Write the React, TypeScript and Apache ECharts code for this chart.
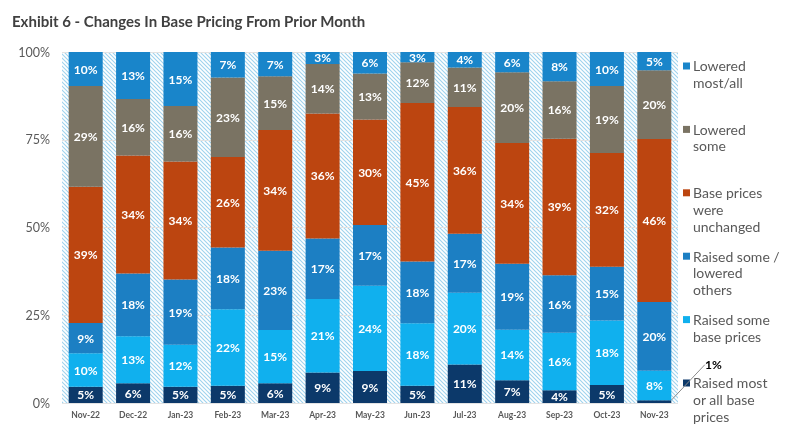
import React, { useEffect, useRef } from "react";
import * as echarts from "echarts";

const months = ["Nov-22", "Dec-22", "Jan-23", "Feb-23", "Mar-23", "Apr-23", "May-23", "Jun-23", "Jul-23", "Aug-23", "Sep-23", "Oct-23", "Nov-23"];

// stacked bottom -> top (percent of respondents)
const raisedMostAll = [4.6, 5.6, 4.6, 4.9, 5.6, 8.7, 9.1, 4.9, 11.0, 6.5, 3.6, 5.1, 0.8];
const raisedSome = [9.6, 13.4, 12.0, 21.8, 15.2, 20.9, 24.3, 17.8, 20.4, 14.4, 16.4, 18.4, 8.4];
const raisedSomeLoweredOthers = [8.6, 17.9, 18.6, 17.6, 22.6, 17.3, 17.3, 17.6, 16.8, 18.8, 16.4, 15.3, 19.6];
const unchanged = [38.8, 33.6, 33.6, 25.8, 34.4, 35.6, 30.1, 45.2, 36.1, 34.4, 38.9, 32.4, 46.4];
const loweredSome = [28.7, 16.1, 15.8, 22.6, 15.3, 14.1, 13.1, 11.6, 11.3, 20.1, 16.4, 19.1, 19.6];
const loweredMostAll = [9.7, 13.4, 15.4, 7.3, 6.9, 3.4, 6.1, 2.9, 4.4, 5.8, 8.3, 9.7, 5.2];

const yTicks = [0, 25, 50, 75, 100];

const seriesNames = [
  "Raised most or all base prices",
  "Raised some base prices",
  "Raised some / lowered others",
  "Base prices were unchanged",
  "Lowered some",
  "Lowered most/all",
];
const legendLabels = [
  "Raised most\nor all base\nprices",
  "Raised some\nbase prices",
  "Raised some /\nlowered\nothers",
  "Base prices\nwere\nunchanged",
  "Lowered\nsome",
  "Lowered\nmost/all",
];
const seriesColors = ["#0c396a", "#10b0ee", "#1c7fc3", "#bc4510", "#7a7363", "#1985ca"];
const seriesData = [raisedMostAll, raisedSome, raisedSomeLoweredOthers, unchanged, loweredSome, loweredMostAll];

const FONT = "Lato, 'Noto Sans', sans-serif";

function makeHatch(): HTMLCanvasElement {
  const c = document.createElement("canvas");
  c.width = 4;
  c.height = 4;
  const ctx = c.getContext("2d")!;
  ctx.fillStyle = "#ffffff";
  ctx.fillRect(0, 0, 4, 4);
  ctx.strokeStyle = "#9fd3ee";
  ctx.lineWidth = 1.1;
  ctx.beginPath();
  ctx.moveTo(-1, -1);
  ctx.lineTo(5, 5);
  ctx.moveTo(-1, 3);
  ctx.lineTo(1, 5);
  ctx.moveTo(3, -1);
  ctx.lineTo(5, 1);
  ctx.stroke();
  return c;
}

export default function App() {
  const ref = useRef<HTMLDivElement>(null);

  useEffect(() => {
    if (!ref.current) return;
    const chart = echarts.init(ref.current, null, { renderer: "svg" });

    const series: any[] = seriesNames.map((name, si) => {
      const s: any = {
        name,
        type: "bar",
        stack: "total",
        barWidth: 34,
        data: seriesData[si],
        itemStyle: { color: seriesColors[si] },
        label: {
          show: true,
          position: "inside",
          color: "#ffffff",
          fontFamily: FONT,
          fontWeight: "bold",
          fontSize: 12,
          formatter: (p: any) => Math.round(p.value) + "%",
        },
      };
      if (si === 0) {
        s.data = raisedMostAll.map((v, i) =>
          i === months.length - 1 ? { value: v, label: { color: "#000000", fontSize: 12, fontWeight: "bold" } } : v
        );
        s.labelLine = { show: true, lineStyle: { color: "#8c8c8c", width: 1 } };
        s.labelLayout = (p: any) => (p.dataIndex === months.length - 1 ? { dx: 59, dy: -37 } : {});
      }
      return s;
    });

    const legendGraphics: any[] = [];
    const order = [5, 4, 3, 2, 1, 0];
    order.forEach((si, k) => {
      const cy = 66 + 63.4 * k;
      legendGraphics.push({
        type: "rect",
        shape: { x: 683, y: cy - 3.5, width: 7, height: 7 },
        style: { fill: seriesColors[si] },
      });
      legendGraphics.push({
        type: "text",
        x: 693,
        y: cy - 8.5,
        style: {
          text: legendLabels[si],
          fill: "#595959",
          font: `14px ${FONT}`,
          lineHeight: 16.7,
          verticalAlign: "top",
        },
      });
    });

    chart.setOption({
      animation: false,
      title: {
        text: "Exhibit 6 - Changes In Base Pricing From Prior Month",
        left: 7,
        top: 8,
        textStyle: { fontFamily: FONT, fontWeight: "bold", fontSize: 15, color: "#404040" },
      },
      grid: {
        left: 62,
        right: 115,
        top: 52,
        bottom: 40,
        show: true,
        borderWidth: 0,
        backgroundColor: { image: makeHatch(), repeat: "repeat" } as any,
      },
      xAxis: {
        type: "category",
        data: months,
        axisLine: { show: false },
        axisTick: { show: false },
        axisLabel: { color: "#595959", fontFamily: FONT, fontSize: 8.5, fontWeight: "bold", margin: 7 },
      },
      yAxis: {
        type: "value",
        min: yTicks[0],
        max: yTicks[yTicks.length - 1],
        interval: 25,
        axisLine: { show: false },
        axisTick: { show: false },
        splitLine: { show: true, lineStyle: { color: "#e3e3e3", width: 1 } },
        axisLabel: { color: "#595959", fontFamily: FONT, fontSize: 12.5, margin: 12, formatter: "{value}%" },
      },
      graphic: legendGraphics,
      series,
    });

    return () => chart.dispose();
  }, []);

  return <div ref={ref} style={{ position: "fixed", left: 0, top: 0, width: 793, height: 443 }} />;
}
